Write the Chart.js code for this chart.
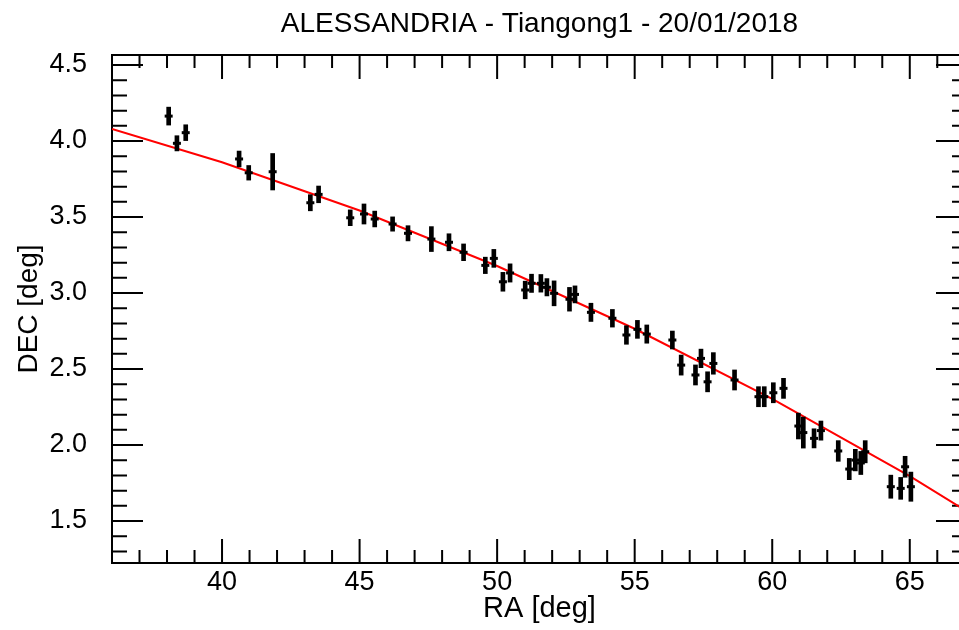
<!DOCTYPE html>
<html lang="en">
<head>
    <meta charset="UTF-8">
    <title>ALESSANDRIA - Tiangong1</title>
    <script src="https://cdn.jsdelivr.net/npm/chart.js"></script>
    <style>
        body { margin: 0; overflow: hidden; background: #fff; }
        #wrap { width: 980px; height: 630px; }
    </style>
</head>
<body>

<div id="wrap"><canvas id="raDec"></canvas></div>

<script>
    // observed positions (deg) and DEC uncertainty
    const ra = [38.06, 38.36, 38.68, 40.62, 40.97, 41.84, 43.21, 43.51, 44.66, 45.16,
                45.55, 46.20, 46.76, 47.61, 48.25, 48.78, 49.57, 49.88, 50.21, 50.47,
                51.02, 51.25, 51.59, 51.81, 52.07, 52.63, 52.83, 53.41, 54.19, 54.70,
                55.10, 55.44, 56.37, 56.69, 57.21, 57.41, 57.65, 57.86, 58.63, 59.50,
                59.71, 60.04, 60.41, 60.95, 61.13, 61.52, 61.77, 62.40, 62.80, 63.02,
                63.22, 63.38, 64.31, 64.67, 64.83, 65.04];
    const dec = [4.164, 3.985, 4.055, 3.882, 3.791, 3.798, 3.594, 3.649, 3.495, 3.520,
                 3.487, 3.454, 3.393, 3.355, 3.334, 3.268, 3.182, 3.228, 3.074, 3.132,
                 3.020, 3.064, 3.064, 3.038, 2.998, 2.959, 2.991, 2.873, 2.834, 2.724,
                 2.761, 2.730, 2.691, 2.526, 2.461, 2.570, 2.416, 2.537, 2.428, 2.318,
                 2.318, 2.344, 2.373, 2.125, 2.082, 2.044, 2.095, 1.961, 1.842, 1.901,
                 1.882, 1.956, 1.726, 1.715, 1.857, 1.726];
    const decErr = [0.059, 0.050, 0.052, 0.052, 0.048, 0.120, 0.053, 0.055, 0.052, 0.066,
                    0.052, 0.047, 0.050, 0.082, 0.056, 0.055, 0.054, 0.059, 0.062, 0.060,
                    0.058, 0.060, 0.058, 0.057, 0.082, 0.078, 0.056, 0.060, 0.058, 0.061,
                    0.059, 0.060, 0.059, 0.066, 0.066, 0.061, 0.066, 0.071, 0.066, 0.066,
                    0.066, 0.066, 0.066, 0.085, 0.102, 0.063, 0.063, 0.068, 0.070, 0.071,
                    0.076, 0.073, 0.076, 0.072, 0.069, 0.096];

    // fitted track
    const fitRa  = [36, 40, 45, 50, 55, 60, 65, 67.08];
    const fitDec = [4.079, 3.860, 3.543, 3.178, 2.765, 2.304, 1.795, 1.564];

    const raTicks  = [40, 45, 50, 55, 60, 65];
    const decTicks = [1.5, 2.0, 2.5, 3.0, 3.5, 4.0, 4.5];

    const font = "'Liberation Sans', Arial, Helvetica, sans-serif";
    Chart.defaults.font.family = font;
    Chart.defaults.color = '#000';

    // IDL style box with inward ticks on all four sides
    const frame = {
        id: 'frame',
        beforeDatasetsDraw(chart) {
            const { ctx, chartArea: a, scales: { x, y } } = chart;
            ctx.save();
            ctx.strokeStyle = '#000';
            ctx.lineWidth = 2;
            ctx.strokeRect(a.left, a.top, a.right - a.left, a.bottom - a.top);
            ctx.beginPath();
            for (let v = Math.ceil(x.min); v <= x.max; v++) {
                const px = x.getPixelForValue(v);
                const len = v % 5 === 0 ? 24 : 13;
                ctx.moveTo(px, a.bottom); ctx.lineTo(px, a.bottom - len);
                ctx.moveTo(px, a.top); ctx.lineTo(px, a.top + len);
            }
            for (let i = Math.ceil(y.min * 10); i <= y.max * 10; i++) {
                const py = y.getPixelForValue(i / 10);
                const len = i % 5 === 0 ? 31 : 15;
                ctx.moveTo(a.left, py); ctx.lineTo(a.left + len, py);
                ctx.moveTo(a.right, py); ctx.lineTo(a.right - len, py);
            }
            ctx.stroke();
            ctx.restore();
        }
    };

    new Chart(document.getElementById('raDec'), {
        type: 'bar',
        data: {
            datasets: [
                {
                    type: 'scatter',
                    data: ra.map((v, i) => ({ x: v, y: dec[i] })),
                    pointStyle: 'line',
                    pointRadius: 4,
                    borderWidth: 3,
                    borderColor: '#000',
                    order: 0
                },
                {
                    type: 'bar',
                    data: ra.map((v, i) => ({ x: v, y: [dec[i] - decErr[i], dec[i] + decErr[i]] })),
                    backgroundColor: '#000',
                    barThickness: 4,
                    borderWidth: 0,
                    grouped: false,
                    order: 1
                },
                {
                    type: 'line',
                    data: fitRa.map((v, i) => ({ x: v, y: fitDec[i] })),
                    borderColor: '#ff0000',
                    borderWidth: 2,
                    pointRadius: 0,
                    fill: false,
                    order: 2
                }
            ]
        },
        options: {
            responsive: true,
            maintainAspectRatio: false,
            animation: false,
            events: [],
            layout: { padding: { left: 0, right: 13, top: 0, bottom: 0 } },
            plugins: {
                legend: { display: false },
                tooltip: { enabled: false },
                title: {
                    display: true,
                    fullSize: false,
                    text: 'ALESSANDRIA - Tiangong1 - 20/01/2018',
                    font: { size: 28, weight: 'normal' },
                    color: '#000',
                    padding: { top: 7, bottom: 14.4 }
                }
            },
            scales: {
                x: {
                    type: 'linear',
                    min: 36,
                    max: 67.08,
                    offset: false,
                    grid: { display: false, drawTicks: false },
                    border: { display: false },
                    afterFit: s => { s.height = 67; },
                    afterBuildTicks: s => { s.ticks = raTicks.map(v => ({ value: v })); },
                    ticks: { font: { size: 27 }, padding: 3, maxRotation: 0 },
                    title: { display: true, text: 'RA [deg]', font: { size: 29 }, padding: { bottom: 3.6 } }
                },
                y: {
                    type: 'linear',
                    min: 1.224,
                    max: 4.566,
                    grid: { display: false, drawTicks: false },
                    border: { display: false },
                    afterFit: s => { s.width = 112; },
                    afterBuildTicks: s => { s.ticks = decTicks.map(v => ({ value: v })); },
                    ticks: { font: { size: 27 }, padding: 25, callback: v => v.toFixed(1) },
                    title: { display: true, text: 'DEC [deg]', font: { size: 28 }, padding: { top: 12.2 } }
                }
            }
        },
        plugins: [frame]
    });
</script>

</body>
</html>
